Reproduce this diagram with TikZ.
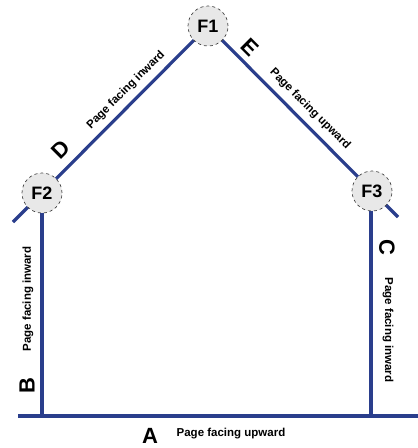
\documentclass[tikz,border=0pt]{standalone}
\usepackage{fontspec}
\setmainfont{Liberation Sans}
\usetikzlibrary{backgrounds}
\definecolor{wallblue}{RGB}{42,62,140}
\definecolor{foldfill}{RGB}{232,232,232}
\definecolor{folddraw}{RGB}{70,70,70}
\tikzset{
  fold/.style={circle, fill=foldfill, draw=folddraw, dashed, line width=0.7pt, minimum size=40pt, inner sep=0pt, font=\bfseries\fontsize{18}{18}\selectfont},
  wall/.style={draw=wallblue, line width=3.2pt},
  letter/.style={font=\bfseries\fontsize{22}{22}\selectfont, inner sep=0pt},
  note/.style={font=\bfseries\fontsize{11.5}{11.5}\selectfont, inner sep=0pt}
}
\begin{document}
\begin{tikzpicture}[x=1pt,y=-1pt]
\useasboundingbox (0,0) rectangle (418,448);
\node[fold] (F1) at (208,26) {F1};
\node[fold] (F2) at (42,193) {F2};
\node[fold] (F3) at (372,191) {F3};
\coordinate (roofL) at (13,222);
\coordinate (roofR) at (398,217);
\coordinate (baseL) at (18,416);
\coordinate (baseR) at (418,416);
\coordinate (wallL) at (42,416);
\coordinate (wallR) at (371,416);
\begin{scope}[on background layer]
\draw[wall] (roofL) -- (F2.center) -- (F1.center) -- (F3.center) -- (roofR);
\draw[wall] (F2.center) -- (wallL);
\draw[wall] (F3.center -| wallR) -- (wallR);
\draw[wall] (baseL) -- (baseR);
\end{scope}
\node[letter] (A) at (150,436) {A};
\node[note] (tA) at (231,434) {Page facing upward};
\node[letter, rotate=90] (B) at (27,386) {B};
\node[note, rotate=90] (tB) at (28,299) {Page facing inward};
\node[letter, rotate=-90] (C) at (387,247) {C};
\node[note, rotate=-90] (tC) at (388,330) {Page facing inward};
\node[letter, rotate=45] (D) at (61,150) {D};
\node[note, rotate=45] (tD) at (126,90) {Page facing inward};
\node[letter, rotate=-45] (E) at (250,47) {E};
\node[note, rotate=-45] (tE) at (310,109) {Page facing upward};
\end{tikzpicture}
\end{document}
